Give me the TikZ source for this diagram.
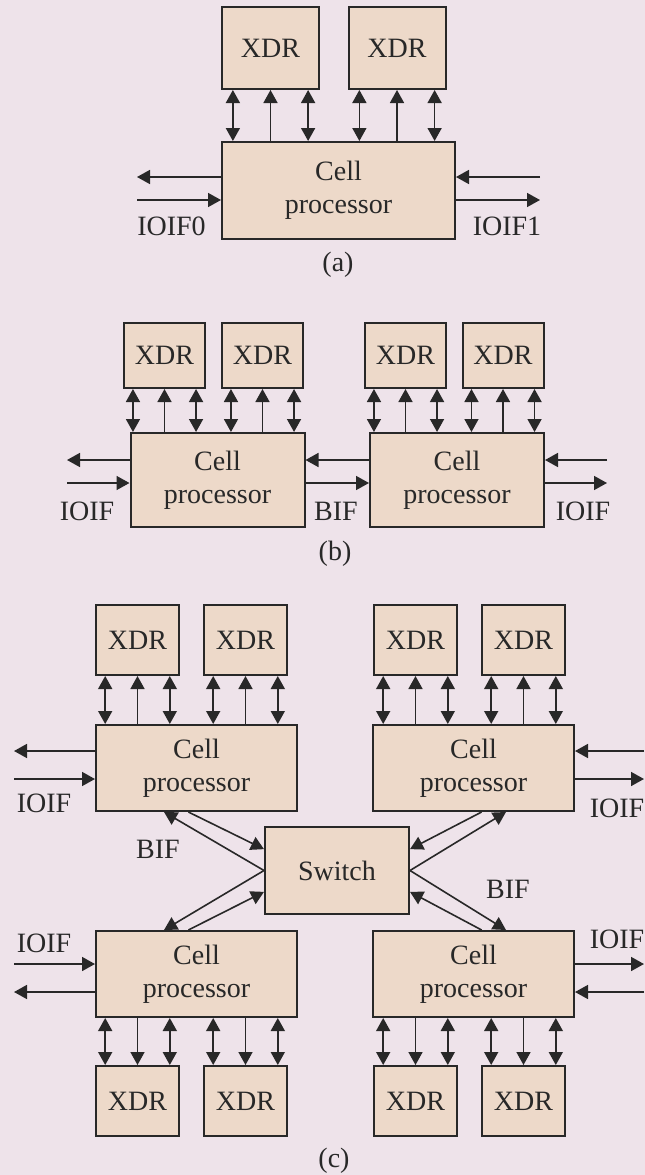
\documentclass[tikz,border=0pt]{standalone}
\usepackage{fontspec}
\setmainfont{Liberation Serif}
\usetikzlibrary{arrows.meta,positioning,calc}
\definecolor{bgc}{RGB}{238,227,234}
\definecolor{boxc}{RGB}{237,217,201}
\definecolor{linec}{RGB}{40,40,40}

% links between one XDR and its cell: #1 xdr, #2 cell, #3 xdr side, #4 cell side
\newcommand{\memlinks}[4]{%
  \foreach \f/\s in {0.12/dbl,0.5/arr,0.88/dbl}{
    \coordinate (m) at ($(#1.#3 west)!\f!(#1.#3 east)$);
    \draw[\s] (m |- #2.#4) -- (m);
  }}

\begin{document}
\begin{tikzpicture}[x=1pt,y=-1pt,
  txt/.style={font=\fontsize{28}{33}\selectfont,text=linec},
  box/.style={txt,draw=linec,fill=boxc,line width=2pt,inner sep=0pt,align=center},
  xdrA/.style={box,minimum width=97pt,minimum height=82pt},
  cellA/.style={box,minimum width=233pt,minimum height=97pt},
  xdrB/.style={box,minimum width=81pt,minimum height=65pt},
  cellB/.style={box,minimum width=174pt,minimum height=94pt},
  xdrC/.style={box,minimum width=83pt,minimum height=70pt},
  cellC/.style={box,minimum width=201pt,minimum height=86pt},
  lbl/.style={txt,inner sep=0pt,anchor=base},
  tip/.tip={Triangle[length=13pt,width=14pt]},
  arr/.style={-tip,line width=1.6pt,draw=linec},
  dbl/.style={tip-tip,line width=1.6pt,draw=linec},
]
  \useasboundingbox (0,0) rectangle (645,1175);
  \fill[bgc] (0,0) rectangle (645,1175);

  % (a) one cell processor
  \node[xdrA] (xa1) at (270.5,48) {XDR};
  \node[xdrA] (xa2) at (397,48) {XDR};
  \node[cellA] (ca) at (338.5,190.5) {Cell\\processor};
  \memlinks{xa1}{ca}{south}{north}
  \memlinks{xa2}{ca}{south}{north}
  \coordinate (a-hi) at (0,177);
  \coordinate (a-lo) at (0,200);
  \coordinate (a-left) at (137,0);
  \coordinate (a-right) at (540,0);
  \draw[arr] (ca.west |- a-hi) -- (a-left |- a-hi);
  \draw[arr] (a-left |- a-lo) -- (ca.west |- a-lo);
  \draw[arr] (a-right |- a-hi) -- (ca.east |- a-hi);
  \draw[arr] (ca.east |- a-lo) -- (a-right |- a-lo);
  \node[lbl] (a-io0) at (171.5,235) {IOIF0};
  \node[lbl] (a-io1) at (507,235) {IOIF1};
  \node[lbl] (a-cap) at (338,271) {(a)};

  % (b) two cell processors
  \node[xdrB] (xb1) at (164.5,355.5) {XDR};
  \node[xdrB] (xb2) at (262.5,355.5) {XDR};
  \node[xdrB] (xb3) at (405.5,355.5) {XDR};
  \node[xdrB] (xb4) at (503,355.5) {XDR};
  \node[cellB] (cb1) at (217.5,480) {Cell\\processor};
  \node[cellB] (cb2) at (457,480) {Cell\\processor};
  \memlinks{xb1}{cb1}{south}{north}
  \memlinks{xb2}{cb1}{south}{north}
  \memlinks{xb3}{cb2}{south}{north}
  \memlinks{xb4}{cb2}{south}{north}
  \coordinate (b-hi) at (0,460);
  \coordinate (b-lo) at (0,483);
  \coordinate (b-left) at (67,0);
  \coordinate (b-right) at (607,0);
  \draw[arr] (cb1.west |- b-hi) -- (b-left |- b-hi);
  \draw[arr] (b-left |- b-lo) -- (cb1.west |- b-lo);
  \draw[arr] (cb2.west |- b-hi) -- (cb1.east |- b-hi);
  \draw[arr] (cb1.east |- b-lo) -- (cb2.west |- b-lo);
  \draw[arr] (b-right |- b-hi) -- (cb2.east |- b-hi);
  \draw[arr] (cb2.east |- b-lo) -- (b-right |- b-lo);
  \node[lbl] (b-io0) at (87,520) {IOIF};
  \node[lbl] (b-bif) at (336,520) {BIF};
  \node[lbl] (b-io1) at (583,520) {IOIF};
  \node[lbl] (b-cap) at (335,560) {(b)};

  % (c) four cell processors and a switch
  \node[xdrC] (xtl1) at (137.5,640) {XDR};
  \node[xdrC] (xtl2) at (245.5,640) {XDR};
  \node[xdrC] (xtr1) at (415.5,640) {XDR};
  \node[xdrC] (xtr2) at (523.5,640) {XDR};
  \node[cellC] (ctl) at (196.5,768) {Cell\\processor};
  \node[cellC] (ctr) at (473.5,768) {Cell\\processor};
  \node[box,minimum width=144pt,minimum height=87pt] (sw) at (337,870.5) {Switch};
  \node[cellC] (cbl) at (196.5,974) {Cell\\processor};
  \node[cellC] (cbr) at (473.5,974) {Cell\\processor};
  \node[xdrC] (xbl1) at (137.5,1101) {XDR};
  \node[xdrC] (xbl2) at (245.5,1101) {XDR};
  \node[xdrC] (xbr1) at (415.5,1101) {XDR};
  \node[xdrC] (xbr2) at (523.5,1101) {XDR};
  \memlinks{xtl1}{ctl}{south}{north}
  \memlinks{xtl2}{ctl}{south}{north}
  \memlinks{xtr1}{ctr}{south}{north}
  \memlinks{xtr2}{ctr}{south}{north}
  \memlinks{xbl1}{cbl}{north}{south}
  \memlinks{xbl2}{cbl}{north}{south}
  \memlinks{xbr1}{cbr}{north}{south}
  \memlinks{xbr2}{cbr}{north}{south}

  \coordinate (c-hi) at (0,751);
  \coordinate (c-lo) at (0,779);
  \coordinate (c-hi2) at (0,964);
  \coordinate (c-lo2) at (0,992);
  \coordinate (c-left) at (14,0);
  \coordinate (c-right) at (644,0);
  \draw[arr] (ctl.west |- c-hi) -- (c-left |- c-hi);
  \draw[arr] (c-left |- c-lo) -- (ctl.west |- c-lo);
  \draw[arr] (c-right |- c-hi) -- (ctr.east |- c-hi);
  \draw[arr] (ctr.east |- c-lo) -- (c-right |- c-lo);
  \draw[arr] (c-left |- c-hi2) -- (cbl.west |- c-hi2);
  \draw[arr] (cbl.west |- c-lo2) -- (c-left |- c-lo2);
  \draw[arr] (cbr.east |- c-hi2) -- (c-right |- c-hi2);
  \draw[arr] (c-right |- c-lo2) -- (cbr.east |- c-lo2);

  % BIF links to the switch
  \draw[arr] (sw.west) -- ($(ctl.south west)!0.34!(ctl.south east)$);
  \draw[arr] ($(ctl.south west)!0.46!(ctl.south east)$) -- ($(sw.north west)!0.26!(sw.south west)$);
  \draw[arr] ($(ctr.south west)!0.54!(ctr.south east)$) -- ($(sw.north east)!0.26!(sw.south east)$);
  \draw[arr] (sw.east) -- ($(ctr.south west)!0.66!(ctr.south east)$);
  \draw[arr] (sw.west) -- ($(cbl.north west)!0.34!(cbl.north east)$);
  \draw[arr] ($(cbl.north west)!0.46!(cbl.north east)$) -- ($(sw.north west)!0.74!(sw.south west)$);
  \draw[arr] (sw.east) -- ($(cbr.north west)!0.66!(cbr.north east)$);
  \draw[arr] ($(cbr.north west)!0.54!(cbr.north east)$) -- ($(sw.north east)!0.74!(sw.south east)$);

  \node[lbl] (c-io1) at (44,812) {IOIF};
  \node[lbl] (c-io2) at (617,817) {IOIF};
  \node[lbl] (c-bif1) at (158,858) {BIF};
  \node[lbl] (c-bif2) at (508,898) {BIF};
  \node[lbl] (c-io3) at (44,952) {IOIF};
  \node[lbl] (c-io4) at (617,948) {IOIF};
  \node[lbl] (c-cap) at (334,1167) {(c)};
\end{tikzpicture}
\end{document}
